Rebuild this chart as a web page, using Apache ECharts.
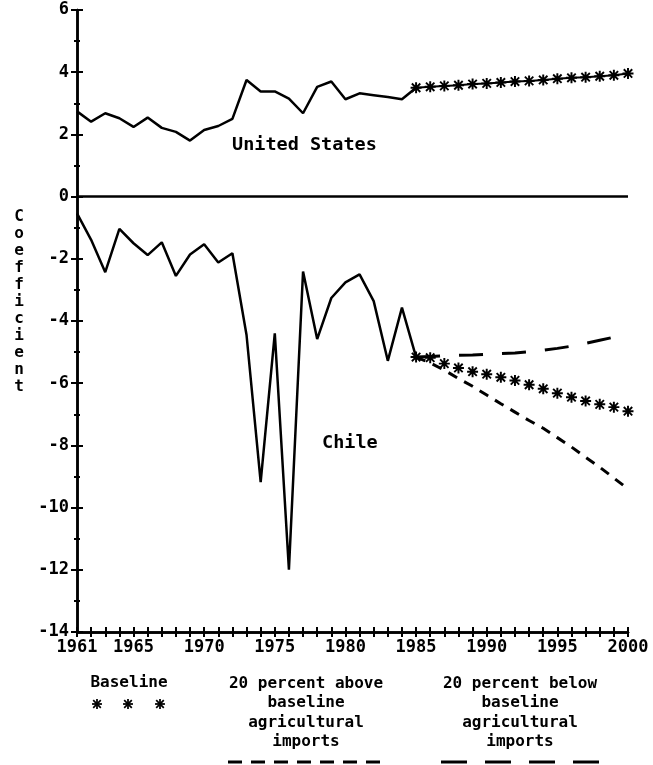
<!DOCTYPE html>
<html><head><meta charset="utf-8">
<script src="https://cdn.jsdelivr.net/npm/echarts@6/dist/echarts.min.js"></script>
<style>html,body{margin:0;padding:0;background:#fff}#c{width:653px;height:765px}</style>
</head><body><div id="c"></div>
<script>
// Historical years and values
const histYears = [1961,1962,1963,1964,1965,1966,1967,1968,1969,1970,1971,1972,1973,1974,1975,1976,1977,1978,1979,1980,1981,1982,1983,1984,1985];
const usHist = [2.74,2.41,2.68,2.52,2.24,2.54,2.21,2.08,1.80,2.14,2.27,2.50,3.75,3.38,3.38,3.15,2.68,3.53,3.70,3.13,3.32,3.26,3.20,3.13,3.50];
const chileHist = [-0.54,-1.39,-2.43,-1.04,-1.50,-1.88,-1.47,-2.55,-1.86,-1.53,-2.12,-1.82,-4.45,-9.18,-4.40,-12.0,-2.41,-4.58,-3.26,-2.76,-2.50,-3.36,-5.28,-3.57,-5.16];
// Projections
const projYears = [1985,1986,1987,1988,1989,1990,1991,1992,1993,1994,1995,1996,1997,1998,1999,2000];
const usBaseline = [3.50,3.53,3.56,3.58,3.62,3.64,3.67,3.70,3.72,3.75,3.79,3.82,3.84,3.87,3.90,3.96];
const chileBaseline = [-5.16,-5.18,-5.37,-5.51,-5.63,-5.71,-5.81,-5.91,-6.05,-6.18,-6.32,-6.45,-6.57,-6.68,-6.77,-6.90];
const chileAbove = [-5.16,-5.35,-5.58,-5.85,-6.10,-6.38,-6.66,-6.93,-7.20,-7.45,-7.75,-8.05,-8.38,-8.70,-9.05,-9.40];
const chileBelow = [-5.16,-5.14,-5.12,-5.10,-5.09,-5.07,-5.05,-5.03,-4.99,-4.94,-4.88,-4.81,-4.72,-4.62,-4.52,-4.42];
const xTickLabels = [1961,1965,1970,1975,1980,1985,1990,1995,2000];
const yTickValues = [6,4,2,0,-2,-4,-6,-8,-10,-12,-14];

const FONT = '"DejaVu Sans Mono", monospace';
const STARPOLYS = [
  [[8.4,1],[11.6,1],[11.6,19],[8.4,19]],
  [[1,8.4],[19,8.4],[19,11.6],[1,11.6]],
  [[2,4.2],[4.2,2],[18,15.8],[15.8,18]],
  [[15.8,2],[18,4.2],[4.2,18],[2,15.8]]
];
const STAR = 'path://' + STARPOLYS.map(p => 'M' + p.map(q => q.join(',')).join('L') + 'Z').join(' ');
function legendStar(cx, cy, size){
  const s = size/20;
  return {type:'group', children: STARPOLYS.map(p => ({type:'polygon', shape:{points:p.map(([a,b]) => [cx + (a-10)*s, cy + (b-10)*s])}, style:{fill:'#000'}}))};
}
const pair = (xs, ys) => xs.map((x, i) => [x, ys[i]]);

const lbl = {color:'#000', fontFamily:FONT, fontWeight:'bold', fontSize:17};
function xAx(inside, showLabel){
  return {type:'value', min:1961, max:2000, interval:1, position:'bottom',
    axisLine:{show:true, onZero:false, lineStyle:{color:'#000', width:2.5}},
    axisTick:{show:true, inside:inside, length:5, lineStyle:{color:'#000', width:2}},
    splitLine:{show:false},
    axisLabel:{show:showLabel, margin:7, ...lbl, formatter: v => xTickLabels.includes(v) ? String(v) : ''}};
}
function yAx(inside, showLabel){
  return {type:'value', min:-14, max:6, interval:2, position:'left',
    axisLine:{show:true, onZero:false, lineStyle:{color:'#000', width:2.5}},
    axisTick:{show:true, inside:inside, length:6, lineStyle:{color:'#000', width:2}},
    minorTick:{show:true, splitNumber:2, length:3, lineStyle:{color:'#000', width:2}},
    splitLine:{show:false},
    axisLabel:{show:showLabel, margin:8, ...lbl, formatter: v => yTickValues.includes(v) ? String(v) : ''}};
}
const solid = {color:'#000', width:2.5, type:'solid'};

const option = {
  animation:false,
  backgroundColor:'#fff',
  grid:{left:77, right:25, top:10, bottom:133},
  xAxis:[xAx(false,true), xAx(true,false)],
  yAxis:[yAx(false,true), yAx(true,false)],
  series:[
    {type:'line', data:pair(histYears, usHist), showSymbol:false, symbol:'none', lineStyle:solid,
     markLine:{silent:true, symbol:'none', label:{show:false}, lineStyle:{color:'#000', width:2.5, type:'solid'}, data:[{yAxis:0}]}},
    {type:'line', data:pair(histYears, chileHist), showSymbol:false, symbol:'none', lineStyle:solid},
    {type:'line', data:pair(projYears, usBaseline), symbol:STAR, symbolSize:11, itemStyle:{color:'#000'}, lineStyle:{color:'#000', width:2}},
    {type:'line', data:pair(projYears, chileBelow), symbol:'none', lineStyle:{color:'#000', width:3, type:[24,19]}},
    {type:'line', data:pair(projYears, chileAbove), symbol:'none', lineStyle:{color:'#000', width:3, type:[10,8]}},
    {type:'line', data:pair(projYears, chileBaseline), symbol:STAR, symbolSize:11, itemStyle:{color:'#000'}, lineStyle:{width:0, opacity:0}}
  ],
  graphic:[
    {type:'text', x:232, y:145, style:{text:'United States', font:'bold 18.5px '+FONT, fill:'#000', verticalAlign:'middle', textVerticalAlign:'middle'}},
    {type:'text', x:322, y:443, style:{text:'Chile', font:'bold 18.5px '+FONT, fill:'#000', verticalAlign:'middle', textVerticalAlign:'middle'}},
    {type:'text', x:19, y:208, style:{text:'C\no\ne\nf\nf\ni\nc\ni\ne\nn\nt', font:'bold 16px '+FONT, lineHeight:17, fill:'#000', align:'center', textAlign:'center'}},
    {type:'text', x:129, y:683, style:{text:'Baseline', font:'bold 16px '+FONT, fill:'#000', align:'center', textAlign:'center', verticalAlign:'middle', textVerticalAlign:'middle'}},
    legendStar(97, 704, 11), legendStar(128, 704, 11), legendStar(160, 704, 11),
    {type:'text', x:306, y:674, style:{text:'20 percent above\nbaseline\nagricultural\nimports', font:'bold 16px '+FONT, lineHeight:19.5, fill:'#000', align:'center', textAlign:'center'}},
    {type:'line', shape:{x1:228, y1:762, x2:384, y2:762}, style:{stroke:'#000', lineWidth:3, lineDash:[14,9]}},
    {type:'text', x:520, y:674, style:{text:'20 percent below\nbaseline\nagricultural\nimports', font:'bold 16px '+FONT, lineHeight:19.5, fill:'#000', align:'center', textAlign:'center'}},
    {type:'line', shape:{x1:441, y1:762, x2:600, y2:762}, style:{stroke:'#000', lineWidth:3, lineDash:[26,18]}}
  ]
};
const chart = echarts.init(document.getElementById('c'), null, {renderer:'canvas'});
chart.setOption(option);
</script>
</body></html>
